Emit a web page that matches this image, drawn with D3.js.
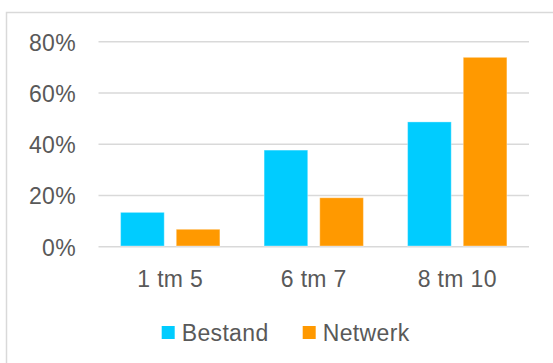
<!DOCTYPE html>
<html>
<head>
<meta charset="utf-8">
<script src="https://cdn.jsdelivr.net/npm/d3@7"></script>
<style>
  html, body { margin: 0; padding: 0; background: #fff; }
  svg { display: block; }
  text { font-family: "Liberation Sans", Arial, sans-serif; fill: #595959; letter-spacing: 0.35px; }
</style>
</head>
<body>
<svg id="chart" width="553" height="363"></svg>
<script>
const categories = ["1 tm 5", "6 tm 7", "8 tm 10"];
const seriesNames = ["Bestand", "Netwerk"];
const bestand = [0.134, 0.377, 0.487];
const netwerk = [0.068, 0.191, 0.739];
const yTicks = [0, 0.2, 0.4, 0.6, 0.8];
const colors = ["#00CCFF", "#FF9900"];

const svg = d3.select("#chart");

// outer frame
svg.append("rect")
  .attr("x", 6.5).attr("y", 12.5)
  .attr("width", 600).attr("height", 400)
  .attr("fill", "none")
  .attr("stroke", "#d9d9d9")
  .attr("stroke-width", 1.5);

const plot = { left: 98.5, right: 529, top: 41.7, bottom: 246.7 };

const y = d3.scaleLinear().domain([0, 0.8]).range([plot.bottom, plot.top]);
const x0 = d3.scaleBand().domain(categories).range([plot.left, plot.right]).paddingInner(0).paddingOuter(0);
const outer = 22.1;
const x1 = d3.scaleBand().domain(seriesNames)
  .range([outer, x0.bandwidth() - outer]).paddingInner(0.216).paddingOuter(0);

// gridlines
svg.append("g").selectAll("line").data(yTicks).join("line")
  .attr("x1", plot.left).attr("x2", plot.right)
  .attr("y1", d => y(d)).attr("y2", d => y(d))
  .attr("stroke", "#d9d9d9").attr("stroke-width", 1.4);

// y labels
const yAxis = d3.axisLeft(y).tickValues(yTicks).tickFormat(d3.format(".0%")).tickSize(0).tickPadding(0);
const gy = svg.append("g").attr("transform", "translate(76,0)").call(yAxis);
gy.select(".domain").remove();
gy.selectAll("text")
  .attr("font-size", 23)
  .attr("fill", "#595959")
  .attr("font-family", "Liberation Sans, Arial, sans-serif")
  .attr("dy", "0.37em");

// bars
const data = categories.map((c, i) => ({ cat: c, vals: [bestand[i], netwerk[i]] }));
const groups = svg.append("g").selectAll("g").data(data).join("g")
  .attr("transform", d => `translate(${x0(d.cat)},0)`);
groups.selectAll("rect").data(d => d.vals.map((v, j) => ({ v, s: seriesNames[j], j })))
  .join("rect")
  .attr("x", d => x1(d.s))
  .attr("width", x1.bandwidth())
  .attr("y", d => y(d.v))
  .attr("height", d => y(0) - y(d.v) - 0.7)
  .attr("fill", d => colors[d.j])
  .attr("stroke", "rgba(255,255,255,0.35)")
  .attr("stroke-width", 1);

// x labels
const xAxis = d3.axisBottom(x0).tickSize(0).tickPadding(0);
const gx = svg.append("g").attr("transform", "translate(0,287.3)").call(xAxis);
gx.select(".domain").remove();
gx.selectAll("text")
  .attr("font-size", 23)
  .attr("fill", "#595959")
  .attr("font-family", "Liberation Sans, Arial, sans-serif")
  .attr("dy", 0);

// legend
const legendX = [161.7, 302.7];
const leg = svg.append("g").selectAll("g").data(seriesNames).join("g")
  .attr("transform", (d, i) => `translate(${legendX[i]},0)`);
leg.append("rect")
  .attr("x", 0).attr("y", 326)
  .attr("width", 13).attr("height", 13)
  .attr("fill", (d, i) => colors[i]);
leg.append("text")
  .attr("x", 20).attr("y", 340.7)
  .attr("font-size", 23)
  .text(d => d);
</script>
</body>
</html>
